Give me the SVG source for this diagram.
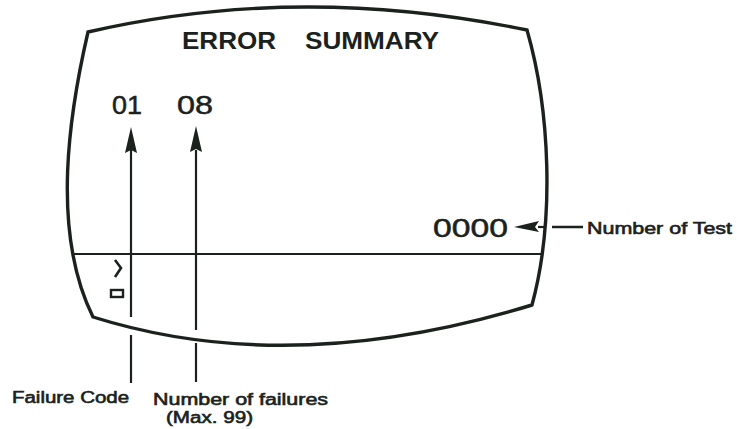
<svg xmlns="http://www.w3.org/2000/svg" width="737" height="429" viewBox="0 0 737 429">
<style>
.ink{stroke:#1b221d;fill:none}
.scr{stroke-width:3.4;stroke-linejoin:miter}
.ln{stroke-width:2.2}
.t{font-family:"Liberation Sans",Arial,sans-serif;fill:#1b221d}
.lbl{font-size:16px;stroke:#1b221d;stroke-width:0.6}
.big{font-size:26px;stroke:#1b221d;stroke-width:0.5}
.head{font-size:24px;font-weight:bold}
</style>
<rect width="737" height="429" fill="#ffffff"/>
<g id="screen">
<path class="ink scr" d="M88,32 Q300,-17 527,30 C550,110 555,220 532,305 Q290,379 93,317 C50,230 70,110 88,32 Z"/>
<line class="ink" stroke-width="2" x1="74" y1="254" x2="542" y2="254"/>
<polyline class="ink" stroke-width="2.6" points="115,260 121,268 115,277"/>
<rect class="ink" stroke-width="2.4" x="111" y="290" width="12" height="7"/>
</g>
<g id="title">
<text class="t head" x="182" y="49" textLength="94" lengthAdjust="spacingAndGlyphs">ERROR</text>
<text class="t head" x="305" y="49" textLength="134" lengthAdjust="spacingAndGlyphs">SUMMARY</text>
</g>
<g id="failure-code-value"><text class="t big" x="112" y="114" textLength="30" lengthAdjust="spacingAndGlyphs">01</text></g>
<g id="failures-value"><text class="t big" x="177" y="114" textLength="36" lengthAdjust="spacingAndGlyphs">08</text></g>
<g id="test-value"><text class="t big" x="433" y="237" textLength="75" lengthAdjust="spacingAndGlyphs">0000</text></g>
<g id="connectors">
<line class="ink ln" x1="131" y1="317" x2="131" y2="150"/>
<path d="M131,127 L137,153 L131,150 L125,153 Z" fill="#1b221d"/>
<line class="ink ln" x1="131" y1="335" x2="131" y2="383"/>
<line class="ink ln" x1="196" y1="330" x2="196" y2="150"/>
<path d="M196,126 L202,152 L196,149 L190,152 Z" fill="#1b221d"/>
<line class="ink ln" x1="196" y1="343" x2="196" y2="382"/>
<line class="ink ln" x1="538" y1="227" x2="544" y2="227"/>
<path d="M514,227 L539,221 L535,227 L539,232 Z" fill="#1b221d"/>
<line class="ink" stroke-width="2.5" x1="552" y1="227" x2="583" y2="227"/>
</g>
<g id="labels">
<text class="t lbl" x="587" y="234" textLength="145" lengthAdjust="spacingAndGlyphs">Number of Test</text>
<text class="t lbl" x="12" y="403" textLength="117" lengthAdjust="spacingAndGlyphs">Failure Code</text>
<text class="t lbl" x="153" y="405" textLength="175" lengthAdjust="spacingAndGlyphs">Number of failures</text>
<text class="t lbl" x="166" y="423" textLength="87" lengthAdjust="spacingAndGlyphs">(Max. 99)</text>
</g>
</svg>
